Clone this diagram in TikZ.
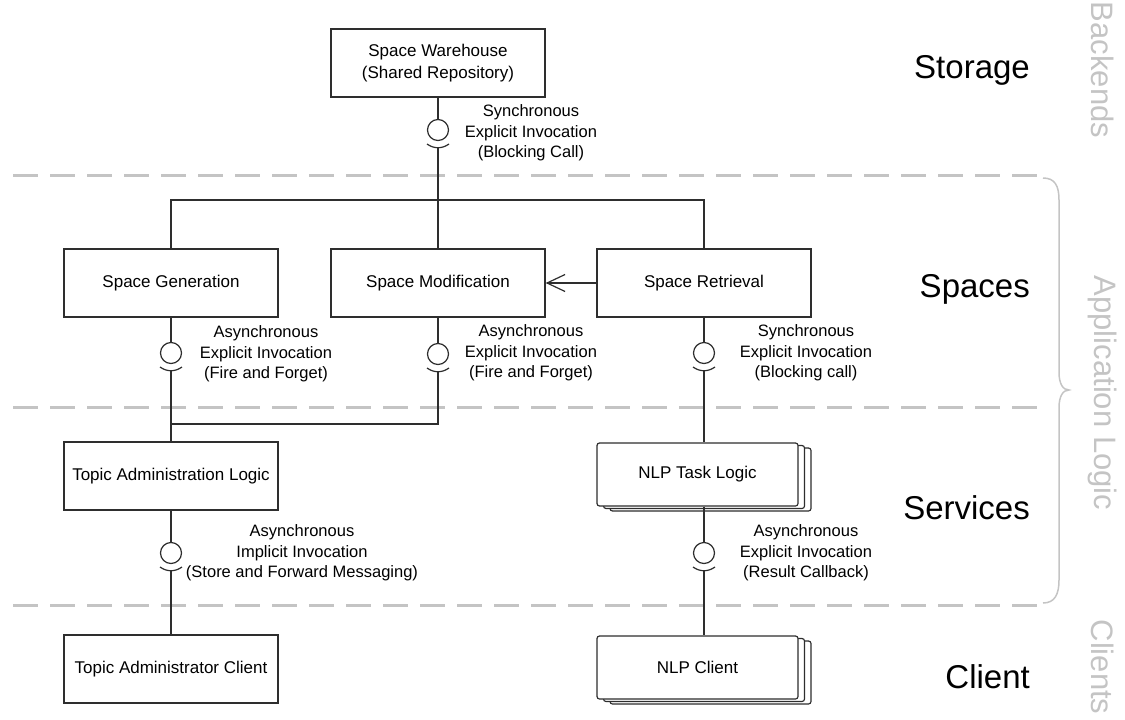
\documentclass[tikz,border=0pt]{standalone}
\usepackage{fontspec}
\setmainfont{Liberation Sans}
\usetikzlibrary{arrows.meta,calc}
\definecolor{ln}{HTML}{2E2E2E}
\definecolor{lg}{HTML}{C4C4C4}
\newcommand{\mksocket}[1]{%
  \draw[conn] ([shift={(-11,14)}]#1.center) .. controls ([shift={(-4,19)}]#1.center) and ([shift={(4,19)}]#1.center) .. ([shift={(11,14)}]#1.center);
  \coordinate (#1s) at ([shift={(0,17.7)}]#1.center);}
\begin{document}
\begin{tikzpicture}[x=1pt,y=-1pt,
  conn/.style={draw=ln,line width=1.2pt},
  box/.style={draw=ln,line width=1.3pt,fill=white,minimum width=214pt,minimum height=68pt,inner sep=0pt,align=center,font=\fontsize{17}{21.5}\selectfont},
  stk/.style={draw=ln,line width=1.2pt,fill=white,rounded corners=2.5pt},
  stkmain/.style={stk,minimum width=201pt,minimum height=63pt,inner sep=0pt,align=center,font=\fontsize{17}{21.5}\selectfont},
  ball/.style={draw=ln,line width=1.2pt,circle,minimum size=21pt,inner sep=0pt},
  lbl/.style={align=center,font=\fontsize{16.5}{20.5}\selectfont,inner sep=0pt},
  layer/.style={draw=lg,line width=3pt,dash pattern=on 25pt off 12pt},
  tier/.style={font=\fontsize{33}{33}\selectfont,anchor=base east,inner sep=0pt},
  side/.style={text=lg,font=\fontsize{31}{31}\selectfont,rotate=-90,inner sep=0pt}
]
\useasboundingbox (0,0) rectangle (1125,720);

% layer separators
\draw[layer] (13,175) -- (1040,175);
\draw[layer] (13,407) -- (1040,407);
\draw[layer] (13,605) -- (1040,605);

% brace
\draw[lg,line width=1.5pt] (1043,178) .. controls (1055,178) and (1059,186) .. (1059,200)
  -- (1059,372) .. controls (1059,384) and (1063,390) .. (1069,390)
  .. controls (1063,390) and (1059,396) .. (1059,408)
  -- (1059,580) .. controls (1059,594) and (1055,603) .. (1043,603);

% side labels
\node[side] (bk) at (1103,70) {Backends};
\node[side] (al) at (1103,393) {Application Logic};
\node[side] (cl) at (1103,667) {Clients};

% tier labels
\node[tier] (tst) at (1030,78) {Storage};
\node[tier] (tsp) at (1030,297) {Spaces};
\node[tier] (tse) at (1030,519) {Services};
\node[tier] (tcl) at (1030,688) {Client};

% stacked copies
\draw[stk] (610,448) rectangle (811,511);
\draw[stk] (603.5,445.5) rectangle (804.5,508.5);
\draw[stk] (610,641) rectangle (811,704);
\draw[stk] (603.5,638.5) rectangle (804.5,701.5);

% boxes
\node[box] (sw) at (438,63) {Space Warehouse\\(Shared Repository)};
\node[box] (sg) at (171,283) {Space Generation};
\node[box] (sm) at (438,283) {Space Modification};
\node[box] (sr) at (704,283) {Space Retrieval};
\node[box] (tal) at (171,476) {Topic Administration Logic};
\node[stkmain] (nt) at (697.5,474.5) {NLP Task Logic};
\node[box] (tac) at (171,669) {Topic Administrator Client};
\node[stkmain] (nc) at (697.5,667.5) {NLP Client};

% balls
\node[ball] (b1) at (438,130) {};
\node[ball] (b2) at (171,353) {};
\node[ball] (b3) at (438,354) {};
\node[ball] (b4) at (704,353) {};
\node[ball] (b5) at (171,553) {};
\node[ball] (b6) at (704,553) {};
\mksocket{b1}
\mksocket{b2}
\mksocket{b3}
\mksocket{b4}
\mksocket{b5}
\mksocket{b6}

% joints
\coordinate (jt) at (438,200);
\coordinate (jm) at (171,424);

% connectors
\draw[conn] (sw.south) -- (b1.north);
\draw[conn] (b1s) -- (sm.north);
\draw[conn] (sg.north) |- (jt) -| (sr.north);
\draw[conn] (sg.south) -- (b2.north);
\draw[conn] (b2s) -- (tal.north);
\draw[conn] (sm.south) -- (b3.north);
\draw[conn] (b3s) |- (jm);
\draw[conn] (sr.south) -- (b4.north);
\draw[conn] (b4s) -- (b4s |- nt.north);
\draw[conn] (tal.south) -- (b5.north);
\draw[conn] (b5s) -- (tac.north);
\draw[conn] (b6.north |- nt.south) -- (b6.north);
\draw[conn] (b6s) -- (b6s |- nc.north);
\draw[conn,-{Straight Barb[length=18pt,width=17pt,line width=1.2pt]}] (sr.west) -- (sm.east);

% interface labels
\node[lbl] (l1) at (531,133) {Synchronous\\Explicit Invocation\\(Blocking Call)};
\node[lbl] (l2) at (266,354) {Asynchronous\\Explicit Invocation\\(Fire and Forget)};
\node[lbl] (l3) at (531,353) {Asynchronous\\Explicit Invocation\\(Fire and Forget)};
\node[lbl] (l4) at (806,353) {Synchronous\\Explicit Invocation\\(Blocking call)};
\node[lbl] (l5) at (302,553) {Asynchronous\\Implicit Invocation\\(Store and Forward Messaging)};
\node[lbl] (l6) at (806,553) {Asynchronous\\Explicit Invocation\\(Result Callback)};
\end{tikzpicture}
\end{document}
